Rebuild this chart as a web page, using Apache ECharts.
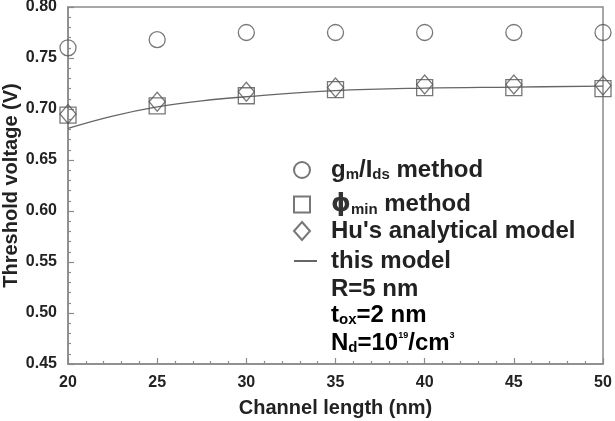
<!DOCTYPE html>
<html>
<head>
<meta charset="utf-8">
<script src="https://cdn.jsdelivr.net/npm/echarts@6/dist/echarts.min.js"></script>
<style>
html,body{margin:0;padding:0;background:#fff;}
#chart{width:615px;height:421px;}
</style>
</head>
<body>
<div id="chart"></div>
<script>
// ---- data ----
var channelLength = [20, 25, 30, 35, 40, 45, 50];
var gmIdsMethod   = [0.760, 0.768, 0.775, 0.775, 0.775, 0.775, 0.775];
var phiMinMethod  = [0.694, 0.703, 0.713, 0.719, 0.721, 0.721, 0.720];
var huModel       = [0.695, 0.707, 0.717, 0.721, 0.724, 0.724, 0.723];
var modelLength   = [20, 22.5, 25, 27.5, 30, 35, 40, 45, 50];
var thisModel     = [0.681, 0.693, 0.702, 0.708, 0.712, 0.718, 0.7205, 0.7215, 0.7225];
var xTicks = [20, 25, 30, 35, 40, 45, 50];
var yTicks = [0.45, 0.50, 0.55, 0.60, 0.65, 0.70, 0.75, 0.80];

function pairs(xs, ys){ return xs.map(function(x,i){ return [x, ys[i]]; }); }

var FONT = '"Liberation Sans", Arial, sans-serif';
var markerColor = '#555';
var axisColor = '#8a8a8a';
var textColor = '#222';

var rich = {
  n:   {fontFamily: FONT, fontWeight: 'bold', fontSize: 24, color: textColor},
  s:   {fontFamily: FONT, fontWeight: 'bold', fontSize: 15, color: textColor, verticalAlign: 'bottom', padding:[7,0,0,0]},
  phi: {fontFamily: '"DejaVu Sans", sans-serif', fontSize: 25, color: '#333'}
};

function legendCfg(name, top, left, iconW, iconH, padLeft, icon){
  var l = {
    data: [name], top: top, left: left, orient: 'vertical',
    itemWidth: iconW, itemHeight: iconH, padding: 0,
    selectedMode: false,
    textStyle: {fontFamily: FONT, fontWeight: 'bold', fontSize: 24, color: textColor, padding: [0,0,0,padLeft], rich: rich},
    formatter: function(n){
      if (n === 'gm') return '{n|g}{s|m}{n|/I}{s|ds}{n| method}';
      if (n === 'phi') return '{phi|ϕ}{s|min}{n| method}';
      if (n === 'hu') return "{n|Hu's analytical model}";
      return '{n|this model}';
    }
  };
  if (icon) l.icon = icon;
  return l;
}

var chart = echarts.init(document.getElementById('chart'), null, {renderer: 'canvas'});
var option = {
  backgroundColor: '#fff',
  animation: false,
  grid: {left: 68, top: 7, right: 12, bottom: 57, containLabel: false, outerBoundsMode: 'none',
         show: true, borderColor: axisColor, borderWidth: 1.5, backgroundColor: 'transparent'},
  xAxis: {
    type: 'value', min: xTicks[0], max: xTicks[xTicks.length-1], interval: 5,
    name: 'Channel length (nm)', nameLocation: 'middle', nameGap: 34, nameMoveOverlap: false,
    nameTextStyle: {fontFamily: FONT, fontWeight: 'bold', fontSize: 20, color: textColor},
    axisLine: {show: true, lineStyle: {color: axisColor, width: 1.5}},
    axisTick: {show: true, inside: true, length: 6, lineStyle: {color: axisColor, width: 1.2}},
    minorTick: {show: true, splitNumber: 5, length: 3, lineStyle: {color: axisColor, width: 1.2}},
    splitLine: {show: false},
    axisLabel: {fontFamily: FONT, fontWeight: 'bold', fontSize: 16, color: textColor, margin: 11}
  },
  yAxis: {
    type: 'value', min: yTicks[0], max: yTicks[yTicks.length-1], interval: 0.05,
    name: 'Threshold voltage (V)', nameLocation: 'middle', nameGap: 47, nameMoveOverlap: false,
    nameTextStyle: {fontFamily: FONT, fontWeight: 'bold', fontSize: 20, color: textColor},
    axisLine: {show: true, lineStyle: {color: axisColor, width: 1.5}},
    axisTick: {show: true, inside: true, length: 6, lineStyle: {color: axisColor, width: 1.2}},
    minorTick: {show: true, splitNumber: 5, length: 3, lineStyle: {color: axisColor, width: 1.2}},
    splitLine: {show: false},
    axisLabel: {fontFamily: FONT, fontWeight: 'bold', fontSize: 16, color: textColor, margin: 11,
      formatter: function(v){ return v.toFixed(2); }}
  },
  legend: [
    legendCfg('gm', 158, 293, 16, 16, 16, 'circle'),
    legendCfg('phi', 192, 293, 16, 16, 16, 'rect'),
    legendCfg('hu', 219, 293, 16, 18, 16, 'diamond'),
    legendCfg('model', 249, 293, 23, 2, 9)
  ],
  series: [
    {
      name: 'model', type: 'line', data: pairs(modelLength, thisModel), smooth: 0.4,
      showSymbol: false, symbol: 'none',
      lineStyle: {color: '#666', width: 1.3}, itemStyle: {color: '#666'}, z: 1
    },
    {
      name: 'gm', type: 'scatter', data: pairs(channelLength, gmIdsMethod),
      symbol: 'circle', symbolSize: 16,
      itemStyle: {color: 'rgba(255,255,255,0)', borderColor: markerColor, borderWidth: 1.3}, z: 3
    },
    {
      name: 'phi', type: 'scatter', data: pairs(channelLength, phiMinMethod),
      symbol: 'rect', symbolSize: 16,
      itemStyle: {color: 'rgba(255,255,255,0)', borderColor: markerColor, borderWidth: 1.3}, z: 3
    },
    {
      name: 'hu', type: 'scatter', data: pairs(channelLength, huModel),
      symbol: 'diamond', symbolSize: [16, 19],
      itemStyle: {color: 'rgba(255,255,255,0)', borderColor: markerColor, borderWidth: 1.3}, z: 3
    }
  ],
  graphic: [
    {type: 'text', left: 331, top: 277, style: {text: 'R=5 nm', font: 'bold 24px ' + FONT, fill: textColor}},
    {type: 'text', left: 331, top: 303, style: {
      text: '{n|t}{s|ox}{n|=2 nm}',
      rich: rich
    }},
    {type: 'text', left: 331, top: 331, style: {
      text: '{n|N}{s|d}{n|=10}{p|19}{n|/cm}{p|3}',
      rich: {
        n: rich.n, s: rich.s,
        p: {fontFamily: FONT, fontWeight: 'bold', fontSize: 9, color: textColor, verticalAlign: 'top', padding: [0,0,14,0]}
      }
    }}
  ]
};
chart.setOption(option);
</script>
</body>
</html>
